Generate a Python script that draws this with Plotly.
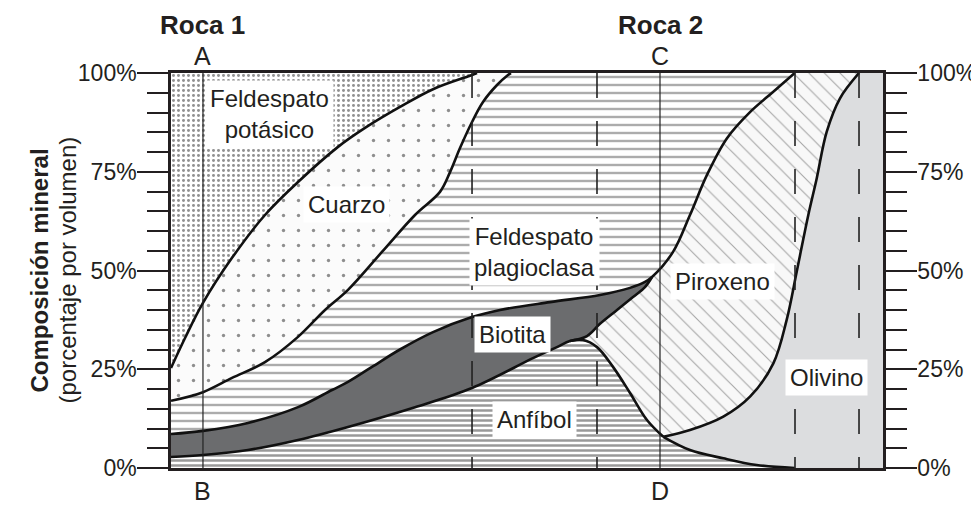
import plotly.graph_objects as go

# boundaries between the minerals
# x: position across the diagram (0 = left edge, 100 = right edge), y: % by volume
qz_top_x = [0, 1.97, 4.49, 8.57, 13.2, 17.84, 23.46, 27.25, 32.16, 36.8, 42.28, 42.98]
qz_top_y = [25.3, 32.9, 41.8, 53.2, 64.05, 72.4, 81.3, 86.1, 91.4, 95.9, 99.5, 100]

plag_top_x = [0, 4.49, 8.57, 13.2, 17.84, 21.63, 24.86, 29.63, 34.27, 37.78, 39.19, 40.59, 42.28, 43.82, 45.79, 47.33, 47.75]
plag_top_y = [17.0, 19.2, 22.8, 26.8, 33.2, 40.0, 45.1, 54.7, 64.05, 69.9, 74.9, 81.0, 87.6, 92.66, 96.96, 99.5, 100]

bio_top_x = [0, 4.49, 10.81, 17.84, 22.61, 24.86, 28.23, 32.16, 36.8, 42.28, 46.21, 53.23, 60.25, 64.47, 66.57, 67.56]
bio_top_y = [8.6, 9.4, 11.4, 15.4, 19.75, 21.8, 25.6, 30.0, 34.4, 38.2, 40.0, 42.0, 43.8, 45.6, 47.1, 48.35]

anf_top_x = [0, 4.49, 10.81, 17.84, 24.86, 34.27, 42.28, 50.84, 54.21, 56.04, 57.87, 59.83, 62.08, 64.47, 66.85, 69.14, 72.89, 77.57, 82.26, 87.6]
anf_top_y = [2.8, 3.3, 4.56, 7.1, 10.4, 15.4, 20.25, 27.8, 30.6, 32.15, 32.4, 30.6, 25.6, 19.0, 12.15, 7.9, 4.56, 2.45, 0.76, 0]

bio_pyx_x = [56.04, 58.43, 60.25, 62.64, 64.89, 66.57, 67.56]
bio_pyx_y = [32.15, 33.4, 36.5, 40.0, 43.3, 45.8, 48.35]

plag_pyx_x = [67.56, 70.51, 72.89, 75.28, 78.09, 81.32, 84.55, 87.6]
plag_pyx_y = [48.35, 54.7, 64.05, 74.2, 83.5, 90.1, 95.2, 100]

oliv_top_x = [69.14, 72.89, 77.57, 81.32, 84.6, 86.47, 87.88, 89.51, 90.69, 92.09, 93.96, 96.63]
oliv_top_y = [7.9, 9.6, 13.0, 18.05, 26.5, 37.5, 49.7, 64.05, 73.3, 85.1, 93.6, 100]

rock_x = [4.49, 68.68]      # sample lines A-B and C-D
dash_x = [42.28, 59.83, 87.64, 96.63]
ytick = [0, 25, 50, 75, 100]

def pts(xs, ys):
    return list(zip(xs, ys))

def rev(p):
    return p[::-1]

def join(*segs):
    # junction points appear twice, which keeps corners sharp with spline shape
    out = []
    for s in segs:
        out.extend(s)
    return out

qz = pts(qz_top_x, qz_top_y)
pl = pts(plag_top_x, plag_top_y)
bi = pts(bio_top_x, bio_top_y)
an = pts(anf_top_x, anf_top_y)
bp = pts(bio_pyx_x, bio_pyx_y)
pp = pts(plag_pyx_x, plag_pyx_y)
ol = pts(oliv_top_x, oliv_top_y)
i_bio = anf_top_x.index(bio_pyx_x[0])
i_d = anf_top_x.index(oliv_top_x[0])

regions = [
    ("Feldespato potásico", join([(0, 100), qz[0]], qz),
     dict(shape=".", size=5, solidity=0.28, fgcolor="#222", bgcolor="white"), None),
    ("Cuarzo", join(qz, [qz[-1], pl[-1]], rev(pl)),
     dict(shape=".", size=15, solidity=0.04, fgcolor="#222", bgcolor="#fbfbfb"), None),
    ("Feldespato plagioclasa", join(pl, [pl[-1], pp[-1]], rev(pp), rev(bi)),
     dict(shape="-", size=8, solidity=0.3, fgcolor="#5a5a5a", bgcolor="white"), None),
    ("Biotita", join(bi, rev(bp), rev(an[:i_bio + 1])), None, "#6b6c6e"),
    ("Anfíbol", join([(0, 0), an[0]], an),
     dict(shape="-", size=5, solidity=0.5, fgcolor="#333", bgcolor="white"), None),
    ("Piroxeno", join(rev(ol), rev(an[i_bio:i_d + 1]), bp, pp),
     dict(shape="\\", size=11, solidity=0.1, fgcolor="#555", bgcolor="#f8f8f8"), None),
    ("Olivino", join([(100, 100), (100, 0), an[-1]], rev(an[i_d:]), ol), None, "#dcdddf"),
]

fig = go.Figure()
for name, poly, pat, solid in regions:
    kw = dict(fillpattern=pat, fillcolor="white") if pat else dict(fillcolor=solid)
    fig.add_trace(go.Scatter(
        x=[p[0] for p in poly], y=[p[1] for p in poly], mode="lines", fill="toself",
        line=dict(width=0, shape="spline", simplify=False, color="rgba(0,0,0,0)"),
        hoverinfo="skip", name=name, **kw))

curves = [qz, pl, bi + pp[1:], bp, an[:i_d + 1], an[i_d:], ol]
for c in curves:
    fig.add_trace(go.Scatter(
        x=[p[0] for p in c], y=[p[1] for p in c], mode="lines",
        line=dict(color="#111", width=2.6, shape="spline"), hoverinfo="skip"))

# invisible trace so the right axis is drawn
fig.add_trace(go.Scatter(x=[0], y=[0], yaxis="y2", mode="markers", marker=dict(opacity=0), hoverinfo="skip"))

for xv in rock_x:
    fig.add_shape(type="line", x0=xv, x1=xv, y0=0, y1=100, line=dict(color="#222", width=1.2))
for xv in dash_x:
    fig.add_shape(type="line", x0=xv, x1=xv, y0=100, y1=0, line=dict(color="#222", width=1.6, dash="25px,23px"))

lab_font = dict(family="Liberation Sans, Arial, sans-serif", size=24, color="#231f20")
labels = [
    ("Feldespato<br>potásico", 13.9, 89.6),
    ("Cuarzo", 24.7, 66.6),
    ("Feldespato<br>plagioclasa", 51.1, 54.7),
    ("Biotita", 47.9, 33.9),
    ("Anfíbol", 51.0, 12.2),
    ("Piroxeno", 77.5, 47.1),
    ("Olivino", 92.1, 23.0),
]
for t, xv, yv in labels:
    fig.add_annotation(x=xv, y=yv, text=t, showarrow=False, font=lab_font,
                       bgcolor="white", borderpad=4)

# text outside the plotting area, in paper coordinates
def paper_note(t, xv, yv, size, angle=0, yanchor="middle"):
    fig.add_annotation(x=xv, y=yv, xref="paper", yref="paper", text=t, showarrow=False,
                       xanchor="center", yanchor=yanchor, textangle=angle,
                       font=dict(lab_font, size=size))

rock_px = [xv / 100 for xv in rock_x]
for t, xv in zip(["<b>Roca 1</b>", "<b>Roca 2</b>"], rock_px):
    paper_note(t, xv, 1.164, 26, yanchor="top")
for t, xv in zip(["A", "C"], rock_px):
    paper_note(t, xv, 1.043, 25)
for t, xv in zip(["B", "D"], rock_px):
    paper_note(t, xv, -0.058, 25)

paper_note("<b>Composición mineral</b>", -0.184, 0.5, 24, -90)
paper_note("(porcentaje por volumen)", -0.146, 0.5, 24, -90)

yax = dict(range=[0, 100], tickvals=ytick, ticktext=[f"{v}%" for v in ytick],
           ticks="outside", ticklen=31, tickwidth=2, tickcolor="#231f20",
           minor=dict(dtick=5, ticklen=21, tickwidth=2, ticks="outside", tickcolor="#231f20"),
           showgrid=False, zeroline=False, showline=True, linecolor="#231f20", linewidth=2.5,
           tickfont=dict(size=23), ticklabelstandoff=-4, fixedrange=True, automargin=False)

# the page body adds an 8px offset, margins compensate so the plot sits at 171..883 x 73..468
fig.update_layout(
    width=979, height=508, margin=dict(l=163, r=104, t=65, b=48),
    plot_bgcolor="white", paper_bgcolor="white", showlegend=False,
    font=dict(family="Liberation Sans, Arial, sans-serif", size=23, color="#231f20"),
    xaxis=dict(range=[0, 100], showgrid=False, zeroline=False, showticklabels=False,
               showline=True, linecolor="#231f20", linewidth=2.5, mirror=True,
               fixedrange=True, automargin=False),
    yaxis=dict(yax, mirror=True),
    yaxis2=dict(yax, overlaying="y", side="right"),
)

fig.write_html("out.html")
